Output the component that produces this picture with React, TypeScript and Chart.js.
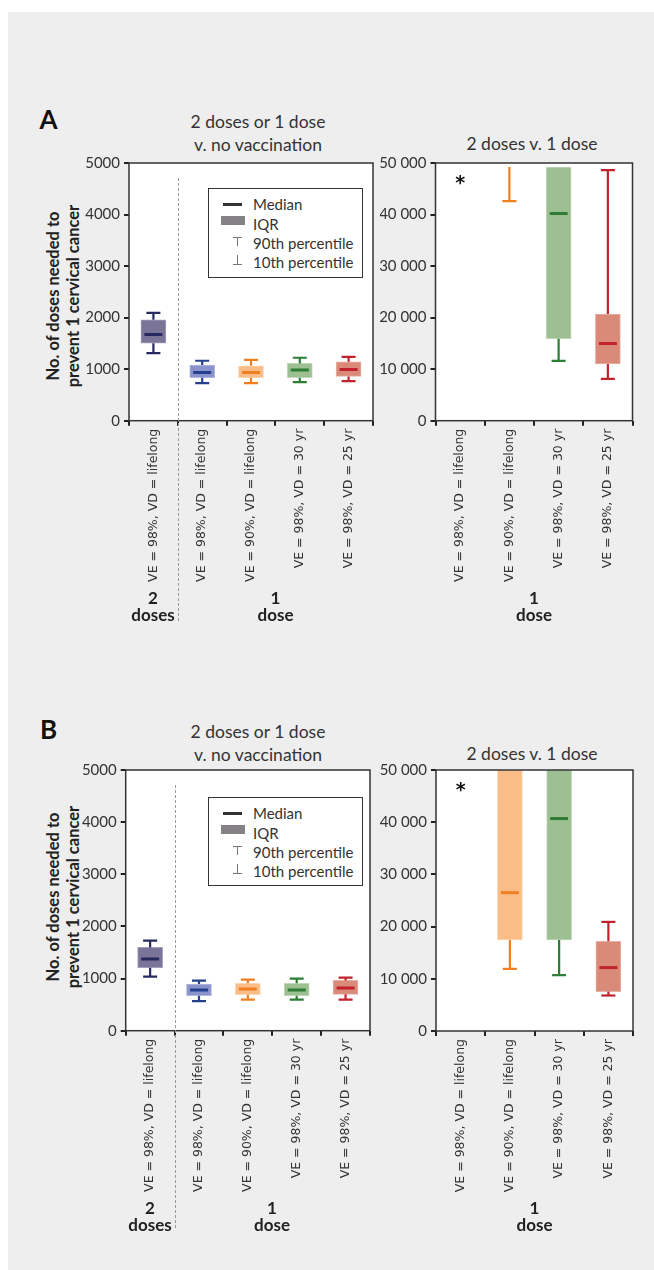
import React, { useEffect, useRef } from "react";
import { Chart, registerables } from "chart.js";

Chart.register(...registerables);

const FONT = "Lato, 'Noto Sans', sans-serif";
const XFONT = "'DejaVu Sans', 'Noto Sans', sans-serif";

// ---------- categories ----------
const leftCategories = [
  "VE = 98%, VD = lifelong",
  "VE = 98%, VD = lifelong",
  "VE = 90%, VD = lifelong",
  "VE = 98%, VD = 30 yr",
  "VE = 98%, VD = 25 yr",
];
const rightCategories = [
  "VE = 98%, VD = lifelong",
  "VE = 90%, VD = lifelong",
  "VE = 98%, VD = 30 yr",
  "VE = 98%, VD = 25 yr",
];

// ---------- colours ----------
const leftFills = ["#7a7499", "#8b93cd", "#fbbd87", "#9cc092", "#d98a79"];
const leftEdges = ["#a29ebb", "#b3b8e0", "#fdd6b3", "#c0d8b8", "#e8b1a5"];
const leftLines = ["#262a5e", "#24408f", "#f07f1f", "#2e7d34", "#c1222c"];
const rightFills = leftFills.slice(1);
const rightEdges = leftEdges.slice(1);
const rightLines = leftLines.slice(1);

// ---------- Panel A: 2 doses or 1 dose v. no vaccination ----------
const aLeftP10 = [1311, 730, 730, 749, 769];
const aLeftQ1 = [1505, 833, 833, 833, 859];
const aLeftMedian = [1673, 937, 937, 982, 995];
const aLeftQ3 = [1957, 1079, 1066, 1111, 1143];
const aLeftP90 = [2093, 1163, 1182, 1221, 1240];

// ---------- Panel A: 2 doses v. 1 dose (null = beyond plotted range) ----------
const aRightP10 = [null, 42600, 11600, 8100];
const aRightQ1 = [null, null, 15900, 11000];
const aRightMedian = [null, null, 40200, 15000];
const aRightQ3 = [null, null, null, 20700];
const aRightP90 = [null, null, null, 48600];
const aRightStar = [46500, null, null, null];
const aRightClip = 49200;

// ---------- Panel B: 2 doses or 1 dose v. no vaccination ----------
const bLeftP10 = [1036, 569, 595, 595, 595];
const bLeftQ1 = [1208, 671, 690, 671, 697];
const bLeftMedian = [1375, 780, 799, 780, 818];
const bLeftQ3 = [1598, 895, 908, 908, 965];
const bLeftP90 = [1726, 959, 978, 997, 1017];

// ---------- Panel B: 2 doses v. 1 dose ----------
const bRightP10 = [null, 11900, 10700, 6800];
const bRightQ1 = [null, 17450, 17450, 7550];
const bRightMedian = [null, 26500, 40700, 12150];
const bRightQ3 = [null, null, null, 17200];
const bRightP90 = [null, null, null, 20900];
const bRightStar = [46600, null, null, null];
const bRightClip = 50000;

// ---------- axis ticks ----------
const leftYMax = 5000;
const leftYStep = 1000;
const rightYMax = 50000;
const rightYStep = 10000;

type Num = number | null;
type Geo = { cl: number; ct: number; cr: number; cb: number; L: number; R: number; T: number; B: number };

type BoxProps = {
  g: Geo;
  labels: string[];
  p10: Num[];
  q1: Num[];
  med: Num[];
  q3: Num[];
  p90: Num[];
  fills: string[];
  edges: string[];
  lines: string[];
  yMax: number;
  yStep: number;
  clip: number;
  star?: Num[];
  divider?: boolean;
  spaced?: boolean;
};

const XH = 165;

function fmtSpaced(v: number) {
  return String(v).replace(/\B(?=(\d{3})+(?!\d))/g, " ");
}

function BoxChart(p: BoxProps) {
  const ref = useRef<HTMLCanvasElement>(null);
  const g = p.g;
  const W = g.cr - g.cl;
  const H = g.cb - g.ct;
  useEffect(() => {
    if (!ref.current) return;
    const data = p.q1.map((q, i) => {
      if (q == null) return null;
      const t = p.q3[i];
      const top = t == null ? p.clip : Math.min(t, p.clip);
      return [q, top];
    });
    const decor = {
      id: "decor",
      beforeDraw(chart: any) {
        const a = chart.chartArea;
        const ctx = chart.ctx;
        ctx.save();
        ctx.fillStyle = "#ffffff";
        ctx.fillRect(a.left, a.top, a.right - a.left, a.bottom - a.top);
        ctx.restore();
      },
      afterDatasetsDraw(chart: any) {
        const a = chart.chartArea;
        const ctx = chart.ctx;
        const xs = chart.scales.x;
        const ys = chart.scales.y;
        ctx.save();
        ctx.beginPath();
        ctx.rect(a.left, a.top, a.right - a.left, a.bottom - a.top);
        ctx.clip();
        const seg = (x1: number, y1: number, x2: number, y2: number) => {
          ctx.beginPath();
          ctx.moveTo(x1, y1);
          ctx.lineTo(x2, y2);
          ctx.stroke();
        };
        p.labels.forEach((_, i) => {
          const x = xs.getPixelForValue(i);
          const q1 = p.q1[i], q3 = p.q3[i], p10 = p.p10[i], p90 = p.p90[i], md = p.med[i];
          ctx.strokeStyle = p.lines[i];
          ctx.lineWidth = 2.2;
          ctx.lineCap = "butt";
          if (p10 != null) {
            const from = q1 == null ? p.clip : q1;
            const y10 = ys.getPixelForValue(p10);
            seg(x, ys.getPixelForValue(from), x, y10);
            seg(x - 7, y10, x + 7, y10);
          }
          if (q3 != null && q3 < p.clip) {
            const to = p90 == null ? p.clip : Math.min(p90, p.clip);
            const y90 = ys.getPixelForValue(to);
            seg(x, ys.getPixelForValue(q3), x, y90);
            if (p90 != null && p90 <= p.clip) seg(x - 7, y90, x + 7, y90);
          }
          if (md != null && md <= p.clip) {
            ctx.lineWidth = 3;
            const ym = ys.getPixelForValue(md);
            seg(x - 9, ym, x + 9, ym);
          }
          const s = p.star ? p.star[i] : null;
          if (s != null) {
            ctx.fillStyle = "#111";
            ctx.font = "bold 19px 'DejaVu Sans', sans-serif";
            ctx.textAlign = "center";
            ctx.textBaseline = "middle";
            ctx.fillText("*", x, ys.getPixelForValue(s) + 3);
          }
        });
        ctx.restore();
      },
      afterDraw(chart: any) {
        const a = chart.chartArea;
        const ctx = chart.ctx;
        ctx.save();
        ctx.strokeStyle = "#333";
        ctx.lineWidth = 1.5;
        ctx.strokeRect(a.left, a.top, a.right - a.left, a.bottom - a.top);
        if (p.divider) {
          const xs = chart.scales.x;
          const xd = (xs.getPixelForValue(0) + xs.getPixelForValue(1)) / 2;
          ctx.strokeStyle = "#9a9a9a";
          ctx.lineWidth = 1;
          ctx.setLineDash([3, 2]);
          ctx.beginPath();
          ctx.moveTo(Math.round(xd) + 0.5, a.top + 15);
          ctx.lineTo(Math.round(xd) + 0.5, chart.height);
          ctx.stroke();
        }
        ctx.restore();
      },
    };
    const chart = new Chart(ref.current, {
      type: "bar",
      data: {
        labels: p.labels,
        datasets: [
          {
            data: data as any,
            backgroundColor: p.fills,
            borderColor: p.edges,
            borderWidth: 1,
            borderSkipped: false,
            barThickness: 25,
          },
        ],
      },
      options: {
        animation: false,
        responsive: false,
        events: [],
        layout: {
          padding: { left: 0, right: g.cr - g.R, top: g.T - g.ct, bottom: g.cb - g.B - XH },
        },
        plugins: { legend: { display: false }, tooltip: { enabled: false } },
        scales: {
          x: {
            type: "category",
            offset: true,
            grid: { offset: true, drawOnChartArea: false, drawTicks: true, tickLength: 5, color: "#222", lineWidth: 2 },
            border: { display: false },
            ticks: {
              minRotation: 90,
              maxRotation: 90,
              autoSkip: false,
              padding: 3,
              color: "#333",
              font: { family: XFONT, size: 12.5 },
            },
            afterFit: (s: any) => {
              s.height = XH;
            },
          },
          y: {
            min: 0,
            max: p.yMax,
            grid: { drawOnChartArea: false, drawTicks: true, tickLength: 5, color: "#222", lineWidth: 2 },
            border: { display: false },
            ticks: {
              stepSize: p.yStep,
              padding: 4,
              color: "#333",
              font: { family: FONT, size: 15 },
              callback: (v: any) => (p.spaced ? fmtSpaced(Number(v)) : String(v)),
            },
            afterFit: (s: any) => {
              s.width = g.L - g.cl;
            },
          },
        },
      } as any,
      plugins: [decor as any],
    });
    return () => chart.destroy();
  }, []);
  return (
    <canvas
      ref={ref}
      width={W}
      height={H}
      style={{ position: "absolute", left: g.cl, top: g.ct, width: W, height: H }}
    />
  );
}

function Txt(props: { x: number; y: number; children: any; style?: any }) {
  return (
    <div
      style={{
        position: "absolute",
        left: props.x,
        top: props.y,
        transform: "translate(-50%, -50%)",
        whiteSpace: "nowrap",
        textAlign: "center",
        fontFamily: FONT,
        color: "#333",
        ...props.style,
      }}
    >
      {props.children}
    </div>
  );
}

function Legend(props: { x: number; y: number; h: number }) {
  const row = (cy: number, marker: any, text: string) => (
    <>
      {marker}
      <div
        style={{
          position: "absolute",
          left: 44,
          top: cy,
          transform: "translateY(-50%)",
          fontFamily: FONT,
          fontSize: 15,
          color: "#333",
          whiteSpace: "nowrap",
        }}
      >
        {text}
      </div>
    </>
  );
  const abs = (s: any) => <div style={{ position: "absolute", ...s }} />;
  return (
    <div
      style={{
        position: "absolute",
        left: props.x,
        top: props.y,
        width: 155,
        height: props.h,
        boxSizing: "border-box",
        border: "1.5px solid #333",
        background: "#fff",
      }}
    >
      {row(15, abs({ left: 14, top: 13.5, width: 19, height: 3, background: "#333" }), "Median")}
      {row(34.5, abs({ left: 12, top: 27, width: 24, height: 8.5, background: "#858285" }), "IQR")}
      {row(
        54,
        <>
          {abs({ left: 23.5, top: 47.5, width: 9, height: 1.3, background: "#777" })}
          {abs({ left: 27.5, top: 47.5, width: 1.3, height: 9, background: "#777" })}
        </>,
        "90th percentile"
      )}
      {row(
        72.5,
        <>
          {abs({ left: 27.5, top: 66, width: 1.3, height: 9, background: "#777" })}
          {abs({ left: 23.5, top: 74.5, width: 9, height: 1.3, background: "#777" })}
        </>,
        "10th percentile"
      )}
    </div>
  );
}

function YTitle(props: { x: number; y: number }) {
  return (
    <div
      style={{
        position: "absolute",
        left: props.x - 140,
        top: props.y - 20,
        width: 280,
        height: 40,
        transform: "rotate(-90deg)",
        textAlign: "center",
        fontFamily: FONT,
        fontWeight: 700,
        fontSize: 16.5,
        lineHeight: "20px",
        color: "#222",
        whiteSpace: "nowrap",
      }}
    >
      No. of doses needed to
      <br />
      prevent 1 cervical cancer
    </div>
  );
}

function Group(props: { x: number; y: number; n: string; w: string }) {
  return (
    <Txt x={props.x} y={props.y} style={{ fontWeight: 700, fontSize: 17, lineHeight: "17px", color: "#222" }}>
      {props.n}
      <br />
      {props.w}
    </Txt>
  );
}

export default function App() {
  const gAL: Geo = { cl: 70, ct: 150, cr: 380, cb: 622, L: 129, R: 373, T: 162.7, B: 420.7 };
  const gAR: Geo = { cl: 380, ct: 150, cr: 645, cb: 600, L: 435.5, R: 632.5, T: 162.7, B: 420.7 };
  const gBL: Geo = { cl: 66, ct: 757, cr: 378, cb: 1230, L: 125.7, R: 370, T: 770, B: 1030.7 };
  const gBR: Geo = { cl: 380, ct: 757, cr: 645, cb: 1210, L: 436, R: 633, T: 770, B: 1031 };
  return (
    <div style={{ position: "absolute", left: 0, top: 0, width: 654, height: 1270, overflow: "hidden" }}>
      <div style={{ position: "absolute", left: 8, top: 12, width: 646, height: 1258, background: "#eeeeee" }} />

      {/* Panel A */}
      <Txt x={48.5} y={119} style={{ fontWeight: 700, fontSize: 26, color: "#111" }}>A</Txt>
      <Txt x={258} y={133} style={{ fontSize: 17.5, lineHeight: "23px" }}>
        2 doses or 1 dose
        <br />
        v. no vaccination
      </Txt>
      <Txt x={532} y={143} style={{ fontSize: 17.5 }}>2 doses v. 1 dose</Txt>
      <YTitle x={63} y={296} />
      <BoxChart
        g={gAL}
        labels={leftCategories}
        p10={aLeftP10}
        q1={aLeftQ1}
        med={aLeftMedian}
        q3={aLeftQ3}
        p90={aLeftP90}
        fills={leftFills}
        edges={leftEdges}
        lines={leftLines}
        yMax={leftYMax}
        yStep={leftYStep}
        clip={leftYMax}
        divider
      />
      <BoxChart
        g={gAR}
        labels={rightCategories}
        p10={aRightP10}
        q1={aRightQ1}
        med={aRightMedian}
        q3={aRightQ3}
        p90={aRightP90}
        fills={rightFills}
        edges={rightEdges}
        lines={rightLines}
        yMax={rightYMax}
        yStep={rightYStep}
        clip={aRightClip}
        star={aRightStar}
        spaced
      />
      <Legend x={208} y={188} h={90} />
      <Group x={153} y={606} n="2" w="doses" />
      <Group x={275.5} y={606} n="1" w="dose" />
      <Group x={534} y={606} n="1" w="dose" />

      {/* Panel B */}
      <Txt x={48.5} y={729} style={{ fontWeight: 700, fontSize: 26, color: "#111" }}>B</Txt>
      <Txt x={258} y={742.5} style={{ fontSize: 17.5, lineHeight: "23px" }}>
        2 doses or 1 dose
        <br />
        v. no vaccination
      </Txt>
      <Txt x={532} y={753} style={{ fontSize: 17.5 }}>2 doses v. 1 dose</Txt>
      <YTitle x={63} y={897} />
      <BoxChart
        g={gBL}
        labels={leftCategories}
        p10={bLeftP10}
        q1={bLeftQ1}
        med={bLeftMedian}
        q3={bLeftQ3}
        p90={bLeftP90}
        fills={leftFills}
        edges={leftEdges}
        lines={leftLines}
        yMax={leftYMax}
        yStep={leftYStep}
        clip={leftYMax}
        divider
      />
      <BoxChart
        g={gBR}
        labels={rightCategories}
        p10={bRightP10}
        q1={bRightQ1}
        med={bRightMedian}
        q3={bRightQ3}
        p90={bRightP90}
        fills={rightFills}
        edges={rightEdges}
        lines={rightLines}
        yMax={rightYMax}
        yStep={rightYStep}
        clip={bRightClip}
        star={bRightStar}
        spaced
      />
      <Legend x={208} y={797} h={89} />
      <Group x={150} y={1215.5} n="2" w="doses" />
      <Group x={272} y={1215.5} n="1" w="dose" />
      <Group x={534.5} y={1215.5} n="1" w="dose" />
    </div>
  );
}
